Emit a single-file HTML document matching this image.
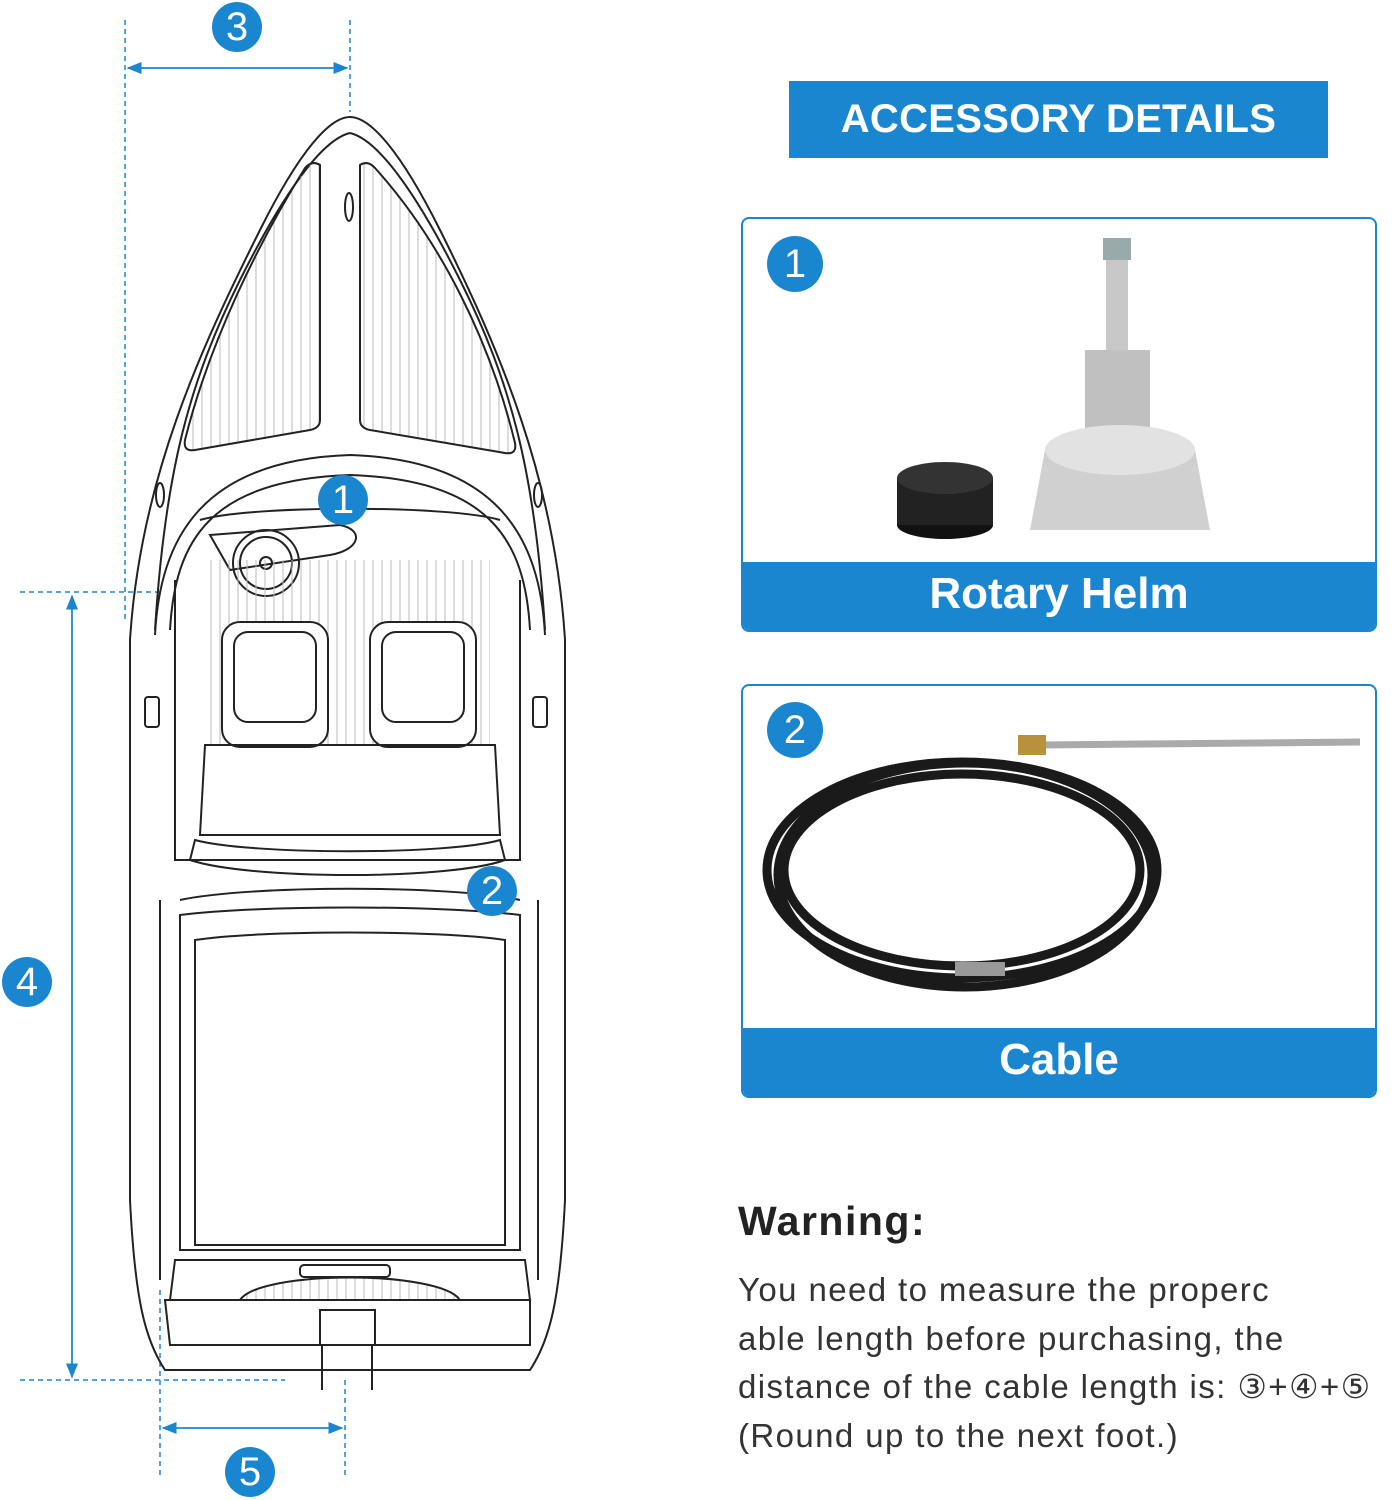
<!DOCTYPE html>
<html><head><meta charset="utf-8"><style>
html,body{margin:0;padding:0;background:#fff;width:1395px;height:1500px;overflow:hidden}
body{position:relative;font-family:"Liberation Sans",sans-serif}
.hdr{position:absolute;left:789px;top:81px;width:539px;height:77px;background:#1a86cf;color:#fff;font-weight:bold;font-size:40px;text-align:center;line-height:77px;letter-spacing:0.3px}
.card{position:absolute;left:741px;width:632px;border:2px solid #1a86cf;border-radius:8px;overflow:hidden;background:#fff}
.bar{position:absolute;left:0;right:0;bottom:0;height:68px;background:#1a86cf;color:#fff;font-weight:bold;font-size:44px;text-align:center;line-height:64px}
.num{position:absolute;width:56px;height:56px;border-radius:50%;background:#1a86cf;color:#fff;font-size:40px;text-align:center;line-height:56px}
.warn{position:absolute;left:738px;top:1198px;font-weight:bold;font-size:41px;color:#222;letter-spacing:1.5px}
.txt{position:absolute;left:738px;top:1266px;font-size:33px;line-height:48.5px;color:#333;letter-spacing:1.4px;white-space:nowrap}
</style></head><body>
<svg width="1395" height="1500" style="position:absolute;left:0;top:0">
<defs>
<marker id="a" markerWidth="10" markerHeight="10" refX="9" refY="5" orient="auto"><path d="M0,1 L10,5 L0,9 Z" fill="#1a86cf"/></marker>
<pattern id="st" width="9" height="10" patternUnits="userSpaceOnUse"><line x1="4" y1="0" x2="4" y2="10" stroke="#bbb" stroke-width="1"/></pattern>
</defs>
<g stroke="#1a86cf" stroke-width="1.5" stroke-dasharray="5,4" fill="none">
<line x1="125" y1="20" x2="125" y2="620"/><line x1="350" y1="20" x2="350" y2="112"/>
<line x1="20" y1="592" x2="160" y2="592"/><line x1="20" y1="1380" x2="285" y2="1380"/>
<line x1="160" y1="1290" x2="160" y2="1475"/><line x1="345" y1="1380" x2="345" y2="1475"/>
</g>
<g stroke="#1a86cf" stroke-width="1.5">
<line x1="128" y1="68" x2="347" y2="68" marker-end="url(#a)"/><line x1="347" y1="68" x2="128" y2="68" marker-end="url(#a)"/>
<line x1="72" y1="596" x2="72" y2="1377" marker-end="url(#a)"/><line x1="72" y1="1377" x2="72" y2="596" marker-end="url(#a)"/>
<line x1="163" y1="1428" x2="342" y2="1428" marker-end="url(#a)"/><line x1="342" y1="1428" x2="163" y2="1428" marker-end="url(#a)"/>
</g>
<g stroke="#222" stroke-width="2" fill="none">
<path d="M350,117 C330,117 300,150 260,230 C200,350 140,480 130,640 L130,1200 C135,1300 145,1340 165,1370 L530,1370 C550,1340 560,1300 565,1200 L565,640 C555,480 500,350 440,230 C400,150 370,117 350,117 Z"/>
<path d="M350,133 C320,140 280,200 240,280 C190,380 165,470 155,630"/>
<path d="M350,133 C380,140 420,200 460,280 C510,380 535,470 545,630"/>
<path d="M320,165 L320,420 Q320,428 310,430 L195,450 Q183,452 185,440 C210,340 260,240 305,168 Q312,160 320,165 Z" fill="url(#st)"/>
<path d="M360,165 L360,420 Q360,428 370,430 L505,453 Q517,455 515,443 C490,340 440,240 375,168 Q368,160 360,165 Z" fill="url(#st)"/>
<ellipse cx="349" cy="207" rx="4" ry="14"/><ellipse cx="160" cy="495" rx="4" ry="12"/><ellipse cx="538" cy="495" rx="4" ry="12"/>
<path d="M155,635 C160,540 200,460 350,455 C500,460 540,540 545,635"/>
<path d="M170,630 C175,540 210,480 350,475 C490,480 525,540 530,630"/>
<path d="M200,520 C250,505 450,505 500,520"/>
<path d="M210,535 L340,525 C365,530 360,550 330,555 L230,570 Z"/>
<circle cx="266" cy="563" r="33"/><circle cx="266" cy="563" r="26"/><circle cx="266" cy="563" r="6"/>
<path d="M175,580 L175,860 L520,860 L520,580" />
<rect x="205" y="560" width="285" height="185" fill="url(#st)" stroke="none"/>
<rect x="222" y="622" width="106" height="125" rx="18" fill="#fff"/><rect x="234" y="632" width="82" height="90" rx="14"/>
<rect x="370" y="622" width="106" height="125" rx="18" fill="#fff"/><rect x="382" y="632" width="82" height="90" rx="14"/>
<path d="M205,745 L495,745 L500,835 L200,835 Z"/>
<path d="M190,860 C250,880 450,880 505,860 L500,840 C450,855 250,855 195,840 Z"/>
<path d="M180,900 C250,885 450,885 520,900"/>
<rect x="145" y="697" width="14" height="30" rx="3"/><rect x="533" y="697" width="14" height="30" rx="3"/>
<path d="M180,915 C260,905 440,905 520,915 L520,1250 L180,1250 Z"/>
<path d="M195,940 C260,930 440,930 505,940 L505,1245 L195,1245 Z"/>
<line x1="160" y1="900" x2="160" y2="1280"/><line x1="538" y1="900" x2="538" y2="1280"/>
<path d="M175,1260 L525,1260 L530,1300 L170,1300 Z"/>
<path d="M240,1300 C260,1270 440,1270 460,1300" fill="url(#st)"/>
<rect x="300" y="1265" width="90" height="12" rx="4"/>
<path d="M165,1300 L530,1300 L530,1345 L170,1345 Z"/>
<rect x="320" y="1310" width="55" height="35"/>
<line x1="322" y1="1345" x2="322" y2="1390"/><line x1="372" y1="1345" x2="372" y2="1390"/>
</g>
</svg>
<div class="num" style="left:212px;top:2px;width:50px;height:50px;line-height:50px">3</div>
<div class="num" style="left:318px;top:475px;width:50px;height:50px;line-height:50px">1</div>
<div class="num" style="left:467px;top:866px;width:50px;height:50px;line-height:50px">2</div>
<div class="num" style="left:2px;top:957px;width:50px;height:50px;line-height:50px">4</div>
<div class="num" style="left:225px;top:1447px;width:50px;height:50px;line-height:50px">5</div>
<div class="hdr">ACCESSORY DETAILS</div>
<div class="card" style="top:217px;height:411px"><div class="bar">Rotary Helm</div></div>
<div class="card" style="top:684px;height:410px"><div class="bar">Cable</div></div>
<div class="num" style="left:767px;top:236px">1</div>
<div class="num" style="left:767px;top:702px">2</div>
<svg width="1395" height="1500" style="position:absolute;left:0;top:0;pointer-events:none">
<ellipse cx="945" cy="525" rx="48" ry="14" fill="#111"/><rect x="897" y="478" width="96" height="47" fill="#222"/><ellipse cx="945" cy="478" rx="48" ry="16" fill="#333"/>
<rect x="1106" y="240" width="22" height="120" fill="#c8c8c8"/><rect x="1103" y="238" width="28" height="22" fill="#9aa"/>
<rect x="1085" y="350" width="65" height="100" fill="#c0c0c0"/>
<path d="M1045,450 L1195,450 L1210,530 L1030,530 Z" fill="#d0d0d0"/><ellipse cx="1120" cy="450" rx="75" ry="25" fill="#e2e2e2"/>
<g fill="none" stroke="#1a1a1a" stroke-width="9"><ellipse cx="962" cy="870" rx="195" ry="108"/><ellipse cx="962" cy="870" rx="178" ry="96"/><ellipse cx="965" cy="875" rx="187" ry="112"/></g>
<line x1="1040" y1="745" x2="1360" y2="742" stroke="#aaa" stroke-width="7"/><rect x="1018" y="735" width="28" height="20" fill="#b8913a"/>
<rect x="955" y="962" width="50" height="14" fill="#999"/>
</svg>
<div class="warn">Warning:</div>
<div class="txt">You need to measure the properc<br>able length before purchasing, the<br>distance of the cable length is: ③+④+⑤<br>(Round up to the next foot.)</div>
</body></html>
